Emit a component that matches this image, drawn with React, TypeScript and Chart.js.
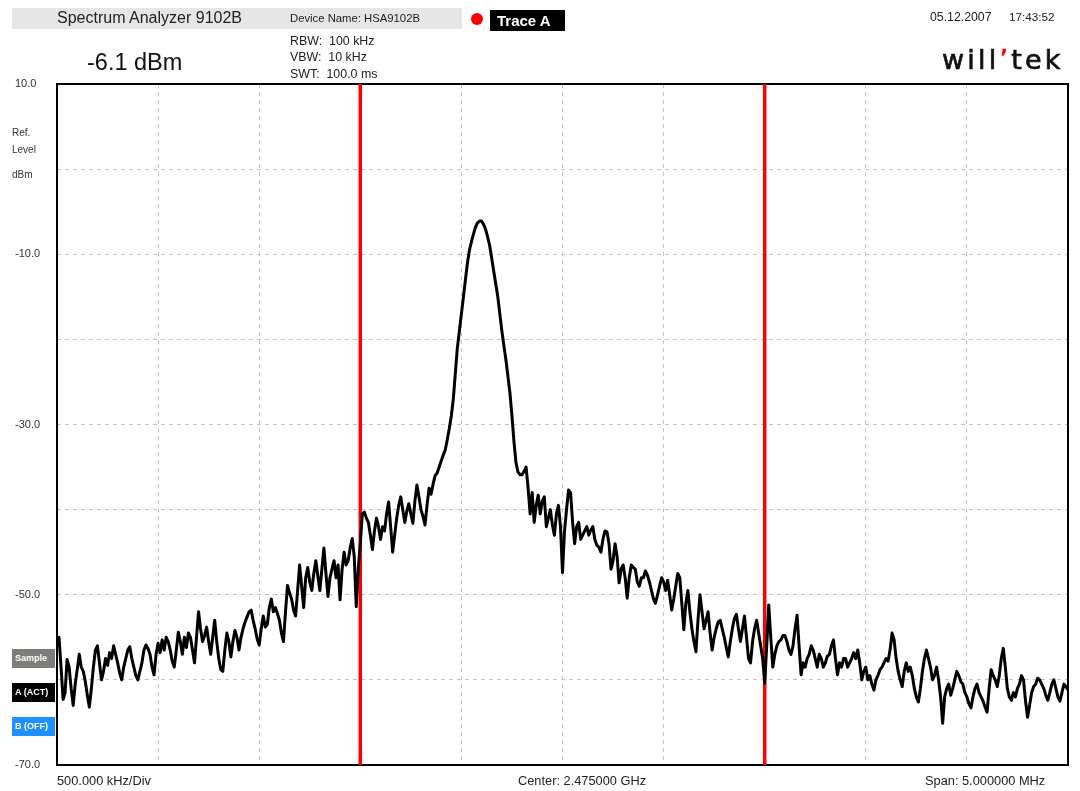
import React, { useEffect, useRef } from "react";
import { Chart, registerables } from "chart.js";

Chart.register(...registerables);

// Frequency axis (MHz)
const START_MHZ = 2472.5;
const STOP_MHZ = 2477.5;
const STEP_MHZ = 0.01;
const DIV_MHZ = 0.5;
// Level axis (dBm)
const REF_LEVEL = 10;
const BOTTOM_LEVEL = -70;
const LEVEL_STEP = 10;
// Display line positions (MHz)
const markerLines = [2474.0, 2476.0];

// Trace A levels (dBm), one sample every 10 kHz from 2472.5 MHz
const traceA: number[] = [
  -56.1, -55.0, -58.5, -62.3, -61.5, -57.6, -58.5, -61.0, -63.0, -60.5, -58.8, -57.0, -58.5, -59.0, -60.2, -61.8, -63.2, -61.0, -58.5, -56.5,
  -56.0, -58.0, -60.0, -59.0, -57.5, -58.3, -56.8, -57.5, -56.0, -57.0, -58.0, -59.2, -60.0, -58.5, -57.5, -56.5, -56.1, -57.5, -58.5, -59.5,
  -60.0, -59.0, -58.0, -56.5, -55.9, -56.3, -57.0, -58.5, -59.4, -57.0, -55.7, -56.8, -55.3, -56.5, -55.0, -55.5, -56.5, -57.8, -58.5, -56.5,
  -54.4, -55.5, -57.0, -55.0, -56.2, -54.5, -55.0, -56.5, -58.0, -55.0, -52.0, -54.0, -55.5, -54.8, -53.8, -55.5, -57.0, -55.0, -53.0, -55.5,
  -57.5, -58.8, -59.0, -56.5, -54.5, -55.5, -57.3, -55.5, -54.2, -55.0, -56.5, -55.0, -54.0, -53.2, -52.6, -52.0, -51.8, -53.0, -54.0, -55.2,
  -55.9, -54.0, -52.5, -53.8, -53.5, -51.5, -50.5, -52.0, -51.5, -52.2, -53.0, -54.5, -55.5, -52.0, -48.9, -49.8, -50.5, -51.8, -52.5, -49.5,
  -46.5, -49.0, -51.5, -48.0, -46.8, -48.5, -49.5, -47.5, -46.0, -47.8, -49.5, -47.0, -44.5, -47.5, -50.2, -48.0, -47.0, -46.0, -48.0, -46.5,
  -50.6, -47.0, -45.0, -46.5, -46.0, -44.5, -43.4, -45.5, -51.4, -47.0, -44.0, -40.5, -40.3, -41.0, -41.5, -43.0, -44.7, -42.5, -41.0, -42.0,
  -43.5, -42.0, -42.5, -40.5, -39.1, -42.0, -45.0, -43.0, -41.0, -39.5, -38.5, -40.0, -41.5, -40.2, -39.3, -40.5, -41.6, -39.0, -37.1, -38.5,
  -40.0, -40.8, -41.8, -39.5, -37.5, -38.2, -37.0, -36.0, -35.7, -35.0, -34.3, -33.6, -33.0, -31.8, -30.5, -29.0, -27.0, -24.0, -21.0, -19.0,
  -17.0, -15.0, -13.0, -11.0, -9.5, -8.5, -7.6, -6.8, -6.3, -6.1, -6.1, -6.5, -7.1, -8.0, -9.0, -10.5, -12.0, -13.5, -15.0, -17.0,
  -19.0, -20.7, -22.4, -24.3, -26.3, -29.0, -32.0, -34.5, -35.6, -35.9, -35.9, -35.5, -35.0, -37.5, -40.5, -38.0, -41.5, -39.5, -38.3, -40.5,
  -39.0, -38.5, -42.0, -41.0, -40.0, -41.8, -43.0, -40.5, -39.5, -42.0, -47.4, -42.5, -40.0, -37.7, -38.0, -41.5, -44.0, -42.0, -41.5, -43.5,
  -43.0, -42.5, -42.0, -43.0, -42.4, -42.0, -43.5, -44.2, -44.4, -45.0, -43.5, -42.5, -42.6, -44.0, -47.0, -46.0, -44.0, -45.5, -48.6, -47.0,
  -46.5, -48.0, -50.4, -48.0, -46.5, -46.8, -47.0, -48.5, -49.0, -48.0, -48.0, -47.2, -47.7, -48.5, -49.5, -50.5, -51.0, -50.0, -49.0, -48.0,
  -48.5, -49.5, -48.3, -50.0, -51.8, -50.5, -49.0, -47.5, -48.0, -51.0, -54.1, -51.0, -49.5, -52.0, -54.0, -55.5, -56.7, -53.0, -50.0, -52.0,
  -54.0, -53.0, -52.0, -54.5, -56.5, -55.0, -54.0, -53.2, -53.0, -54.0, -55.0, -56.2, -57.3, -55.5, -54.0, -52.8, -52.3, -54.0, -55.5, -54.0,
  -52.5, -55.0, -57.5, -58.0, -55.5, -54.0, -53.0, -54.5, -56.0, -57.5, -60.4, -56.0, -51.2, -55.0, -58.5, -57.0, -56.0, -55.5, -55.3, -54.8,
  -54.8, -55.5, -56.5, -57.0, -56.0, -54.0, -52.4, -56.0, -59.4, -58.0, -58.5, -57.5, -57.0, -56.0, -56.5, -57.5, -58.5, -57.0, -57.5, -58.5,
  -58.0, -57.2, -57.0, -56.0, -55.3, -57.5, -59.4, -58.0, -58.5, -57.5, -57.5, -58.5, -58.0, -57.5, -56.8, -57.5, -56.5, -58.0, -60.0, -59.0,
  -58.5, -60.0, -59.5, -60.5, -61.2, -60.0, -59.5, -58.8, -58.5, -58.0, -57.5, -57.8, -56.5, -54.5, -55.3, -57.5, -59.0, -60.0, -60.8, -59.0,
  -58.0, -59.0, -58.5, -59.5, -61.0, -62.0, -62.6, -61.0, -59.0, -57.5, -56.5, -57.5, -58.5, -60.0, -59.5, -58.5, -60.0, -62.0, -65.1, -62.0,
  -61.0, -60.5, -61.8, -61.0, -60.0, -59.0, -59.5, -60.2, -60.5, -61.5, -62.0, -62.8, -63.3, -62.0, -61.0, -60.5, -61.5, -62.0, -62.5, -63.2,
  -63.8, -61.0, -58.8, -59.5, -60.0, -60.8, -59.5, -57.5, -56.3, -58.5, -61.0, -62.0, -62.4, -61.5, -62.0, -61.0, -60.5, -59.5, -60.0, -62.5,
  -64.4, -63.0, -61.5, -60.8, -60.5, -59.8, -60.0, -60.5, -61.0, -61.8, -62.4, -61.5, -60.5, -60.0, -61.0, -62.0, -62.5, -61.5, -60.5, -60.8,
  -61.2,
];

const FONT = "Arial, 'Liberation Sans', sans-serif";

const framePlugin = {
  id: "frame",
  beforeDatasetsDraw(chart: any) {
    const { ctx, chartArea } = chart;
    ctx.save();
    ctx.strokeStyle = "#000";
    ctx.lineWidth = 2;
    ctx.strokeRect(chartArea.left, chartArea.top, chartArea.right - chartArea.left, chartArea.bottom - chartArea.top);
    ctx.restore();
  },
};

export default function App() {
  const ref = useRef<HTMLCanvasElement | null>(null);

  useEffect(() => {
    if (!ref.current) return;
    const tracePoints = traceA.map((v, i) => ({ x: START_MHZ + i * STEP_MHZ, y: v }));
    const markerSets = markerLines.map((f) => ({
      label: "line " + f,
      data: [
        { x: f, y: REF_LEVEL },
        { x: f, y: BOTTOM_LEVEL },
      ],
      borderColor: "#ff0000",
      borderWidth: 3.5,
      pointRadius: 0,
      order: 2,
    }));
    const chart = new Chart(ref.current, {
      type: "line",
      data: {
        datasets: [
          ...markerSets,
          {
            label: "Trace A",
            data: tracePoints,
            borderColor: "#000000",
            borderWidth: 3,
            pointRadius: 0,
            tension: 0,
            borderJoinStyle: "round",
            order: 1,
          },
        ],
      },
      options: {
        animation: false,
        responsive: false,
        events: [],
        layout: { padding: { top: 84, right: 12, bottom: 26, left: 15 } },
        plugins: { legend: { display: false }, tooltip: { enabled: false } },
        scales: {
          x: {
            type: "linear",
            min: START_MHZ,
            max: STOP_MHZ,
            ticks: { display: false, stepSize: DIV_MHZ },
            grid: { color: "#c4c4c4", lineWidth: 1, drawTicks: false },
            border: { display: false, dash: [4, 4] },
            afterFit: (s: any) => {
              s.height = 0;
            },
          },
          y: {
            type: "linear",
            min: BOTTOM_LEVEL,
            max: REF_LEVEL,
            ticks: {
              stepSize: LEVEL_STEP,
              crossAlign: "far",
              color: "#333",
              font: { family: FONT, size: 11 },
              callback: (v: any) => ((REF_LEVEL - Number(v)) % 20 === 0 ? Number(v).toFixed(1) : ""),
            },
            grid: { color: "#c4c4c4", lineWidth: 1, drawTicks: false },
            border: { display: false, dash: [4, 4] },
            afterFit: (s: any) => {
              s.width = 42;
            },
          },
        },
      },
      plugins: [framePlugin],
    });
    return () => chart.destroy();
  }, []);

  const abs = (x: number, y: number, extra: React.CSSProperties = {}): React.CSSProperties => ({
    position: "absolute",
    left: x,
    top: y,
    whiteSpace: "pre",
    fontFamily: FONT,
    lineHeight: 1,
    ...extra,
  });

  const btn = (y: number, bg: string, text: string) => (
    <div
      style={abs(12, y, {
        width: 43,
        height: 19,
        background: bg,
        color: "#fff",
        fontSize: 9,
        fontWeight: "bold",
        display: "flex",
        alignItems: "center",
        paddingLeft: 3,
        boxSizing: "border-box",
      })}
    >
      {text}
    </div>
  );

  return (
    <div style={{ position: "absolute", left: 0, top: 0, width: 1080, height: 791, background: "#fff", overflow: "hidden" }}>
      <canvas ref={ref} width={1080} height={791} style={{ position: "absolute", left: 0, top: 0 }} />
      <div style={abs(12, 8, { width: 450, height: 21, background: "#e6e6e6" })} />
      <div style={abs(57, 10, { fontSize: 16, color: "#222" })}>Spectrum Analyzer 9102B</div>
      <div style={abs(290, 13, { fontSize: 11.3, color: "#222" })}>Device Name: HSA9102B</div>
      <div style={abs(471, 13, { width: 12, height: 12, borderRadius: 6, background: "#ff0000" })} />
      <div
        style={abs(490, 10, {
          width: 75,
          height: 21,
          background: "#000",
          color: "#fff",
          fontSize: 15,
          fontWeight: "bold",
          display: "flex",
          alignItems: "center",
          paddingLeft: 7,
          boxSizing: "border-box",
        })}
      >
        Trace A
      </div>
      <div style={abs(930, 11, { fontSize: 12.3, color: "#222" })}>05.12.2007</div>
      <div style={abs(1009, 11, { fontSize: 11.7, color: "#222" })}>17:43:52</div>
      <div style={abs(290, 35, { fontSize: 12.4, color: "#222" })}>RBW:  100 kHz</div>
      <div style={abs(290, 51, { fontSize: 12.4, color: "#222" })}>VBW:  10 kHz</div>
      <div style={abs(290, 68, { fontSize: 12.4, color: "#222" })}>SWT:  100.0 ms</div>
      <div style={abs(87, 51, { fontSize: 23.5, color: "#111" })}>-6.1 dBm</div>
      <div
        style={abs(942, 46, {
          fontSize: 27,
          color: "#111",
          fontFamily: "'DejaVu Sans', sans-serif",
          letterSpacing: 3.2,
          WebkitTextStroke: "0.7px #111",
        })}
      >
        will<span style={{ color: "#ff0000", WebkitTextStroke: "0.7px #ff0000" }}>’</span>tek
      </div>
      <div style={abs(12, 128, { fontSize: 10, color: "#333" })}>Ref.</div>
      <div style={abs(12, 145, { fontSize: 10, color: "#333" })}>Level</div>
      <div style={abs(12, 170, { fontSize: 10, color: "#333" })}>dBm</div>
      {btn(649, "#7b7e79", "Sample")}
      {btn(683, "#000000", "A (ACT)")}
      {btn(717, "#1e90ff", "B (OFF)")}
      <div style={abs(57, 775, { fontSize: 12.8, color: "#222" })}>500.000 kHz/Div</div>
      <div style={abs(518, 775, { fontSize: 12.8, color: "#222" })}>Center: 2.475000 GHz</div>
      <div style={abs(925, 775, { fontSize: 12.8, color: "#222" })}>Span: 5.000000 MHz</div>
    </div>
  );
}
